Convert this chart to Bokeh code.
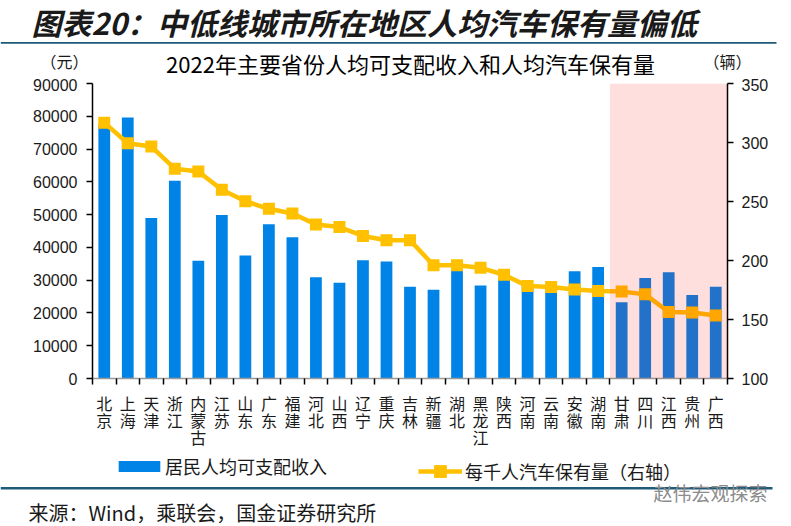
from bokeh.plotting import figure
from bokeh.layouts import column
from bokeh.models import (Range1d, LinearAxis, FixedTicker, SingleIntervalTicker,
                          NumeralTickFormatter, BoxAnnotation, Legend, LegendItem)
from bokeh.core.properties import value
from bokeh.embed import file_html
from bokeh.resources import INLINE

# ---------------- data ----------------
provinces = ["北京", "上海", "天津", "浙江", "内蒙古", "江苏", "山东", "广东", "福建", "河北",
             "山西", "辽宁", "重庆", "吉林", "新疆", "湖北", "黑龙江", "陕西", "河南", "云南",
             "安徽", "湖南", "甘肃", "四川", "江西", "贵州", "广西"]
income = [77415, 79610, 48976, 60302, 35921, 49862, 37560, 47065, 43118, 30867,
          29178, 36089, 35666, 27975, 27063, 32914, 28346, 30116, 28222, 26937,
          32745, 34036, 23273, 30679, 32419, 25508, 27981]
cars_per_k = [316.8, 299.4, 296.6, 277.8, 275.5, 260.0, 250.2, 243.8, 239.8, 230.6,
              228.3, 220.8, 217.1, 217.1, 196.0, 196.0, 193.8, 187.9, 178.3, 177.5,
              175.5, 174.1, 173.8, 171.3, 156.4, 155.9, 153.3]
highlight = ["甘肃", "四川", "江西", "贵州", "广西"]

title_text = "图表20：中低线城市所在地区人均汽车保有量偏低"
subtitle_text = "2022年主要省份人均可支配收入和人均汽车保有量"
left_unit = "（元）"
right_unit = "（辆）"
series1_name = "居民人均可支配收入"
series2_name = "每千人汽车保有量（右轴）"
source_text = "来源：Wind，乘联会，国金证券研究所"
watermark_text = "赵伟宏观探索"

CJK = "Noto Sans CJK SC"
NUM = "Liberation Sans"
BLUE = "#0083E6"
GOLD = "#FFC000"
RULE = "#1F5A78"
INK = "#1a1a1a"
W = 791
HEAD_H, MAIN_H, FOOT_H = 78, 374, 74
NAN = float("nan")


def panel(h):
    f = figure(width=W, height=h, x_range=Range1d(0, W), y_range=Range1d(h, 0),
               output_backend="svg", toolbar_location=None,
               x_axis_location=None, y_axis_location=None,
               min_border=0, min_border_left=0, min_border_right=0,
               min_border_top=0, min_border_bottom=0, frame_align=False)
    f.outline_line_color = None
    f.border_fill_color = "white"
    for g in f.grid:
        g.visible = False
    return f


def txt(f, x, y, s, size, style="normal", color=INK, align="left"):
    f.text(x=[x], y=[y], text=[s], text_font=value(CJK), text_font_size=value(size),
           text_font_style=value(style), text_color=color,
           text_baseline="middle", text_align=align)


# ---------------- header ----------------
head = panel(HEAD_H)
txt(head, 31, 21, title_text, "30px", style="bold italic")
head.quad(left=[0], right=[776], top=[41.4], bottom=[43.2], fill_color=RULE, line_color=None)
txt(head, 40, 60, left_unit, "16px")
txt(head, 410, 62, subtitle_text, "22px", color="black", align="center")
txt(head, 703, 60, right_unit, "16px")

# ---------------- main chart ----------------
n = len(provinces)
centers = [i + 0.5 for i in range(n)]   # category slot centres
bounds = list(range(n + 1))             # category slot boundaries

p = figure(width=W, height=MAIN_H,
           x_range=Range1d(0, n), y_range=Range1d(0, 90000),
           output_backend="svg", toolbar_location=None,
           x_axis_location=None, y_axis_location=None,
           min_border_left=92, min_border_right=64, min_border_top=5, min_border_bottom=72,
           frame_align=False)
p.outline_line_color = None
p.border_fill_color = "white"
for g in p.grid:
    g.visible = False
p.extra_y_ranges = {"cars": Range1d(100, 350)}

xaxis = LinearAxis(ticker=FixedTicker(ticks=centers, minor_ticks=bounds),
                   major_label_overrides={c: "\n".join(name) for c, name in zip(centers, provinces)})
xaxis.major_tick_line_color = None
xaxis.major_tick_out = 0
xaxis.major_tick_in = 0
xaxis.minor_tick_line_color = "black"
xaxis.minor_tick_line_width = 1.5
xaxis.minor_tick_out = 6
xaxis.minor_tick_in = 0
xaxis.axis_line_color = "#9a9a9a"
xaxis.axis_line_width = 1.5
xaxis.major_label_text_font = CJK
xaxis.major_label_text_font_size = "16px"
xaxis.major_label_text_line_height = 0.72
xaxis.major_label_text_color = INK
xaxis.major_label_standoff = 6
p.add_layout(xaxis, "below")

yl = LinearAxis(ticker=SingleIntervalTicker(interval=10000, num_minor_ticks=0),
                formatter=NumeralTickFormatter(format="0"))
yr = LinearAxis(y_range_name="cars", ticker=SingleIntervalTicker(interval=50, num_minor_ticks=0),
                formatter=NumeralTickFormatter(format="0"))
for ax, standoff in ((yl, 9), (yr, 8)):
    ax.major_tick_out = 6
    ax.major_tick_in = 0
    ax.major_tick_line_width = 1.5
    ax.minor_tick_line_color = None
    ax.axis_line_color = "black"
    ax.axis_line_width = 1.5
    ax.major_label_text_font = NUM
    ax.major_label_text_font_size = "16px"
    ax.major_label_text_color = INK
    ax.major_label_standoff = standoff
p.add_layout(yl, "left")
p.add_layout(yr, "right")

p.vbar(x=centers, top=income, width=0.5, fill_color=BLUE, line_color=None)
p.line(x=centers, y=cars_per_k, y_range_name="cars", line_color=GOLD, line_width=4.5)
p.scatter(x=centers, y=cars_per_k, y_range_name="cars", marker="square", size=12,
          fill_color=GOLD, line_color=None)

start = provinces.index(highlight[0])
end = provinces.index(highlight[-1]) + 1
p.add_layout(BoxAnnotation(left=start, right=end,
                           fill_color="#FF0000", fill_alpha=0.13, line_color=None, level="overlay"))

# ---------------- footer (legend key, source) ----------------
foot = panel(FOOT_H)
key_bar = foot.vbar(x=[NAN], top=[NAN], width=0.5, fill_color=BLUE, line_color=None)
key_line = foot.line(x=[NAN], y=[NAN], line_color=GOLD, line_width=4.5)
key_pt = foot.scatter(x=[NAN], y=[NAN], marker="square", size=12, fill_color=GOLD, line_color=None)

leg1 = Legend(items=[LegendItem(label=series1_name, renderers=[key_bar])],
              location=(113, 47.5), orientation="horizontal",
              glyph_width=52, glyph_height=14, label_height=14, label_standoff=0,
              padding=0, margin=0, border_line_color=None, background_fill_alpha=0,
              label_text_font=CJK, label_text_font_size="18px", label_text_color=INK)
leg2 = Legend(items=[LegendItem(label=series2_name, renderers=[key_line, key_pt])],
              location=(418, 39.3), orientation="horizontal",
              glyph_width=44, glyph_height=32, label_height=32, label_standoff=3,
              padding=0, margin=0, border_line_color=None, background_fill_alpha=0,
              label_text_font=CJK, label_text_font_size="18px", label_text_color=INK)
foot.add_layout(leg1)
foot.add_layout(leg2)

foot.quad(left=[0], right=[772], top=[34.4], bottom=[37.0], fill_color=RULE, line_color=None)
txt(foot, 653, 39.7, watermark_text, "19px", color="#8c8c8c")
txt(foot, 28, 59.7, source_text, "20px")

layout = column(head, p, foot, spacing=0)
open("out.html", "w").write(file_html(layout, INLINE))
